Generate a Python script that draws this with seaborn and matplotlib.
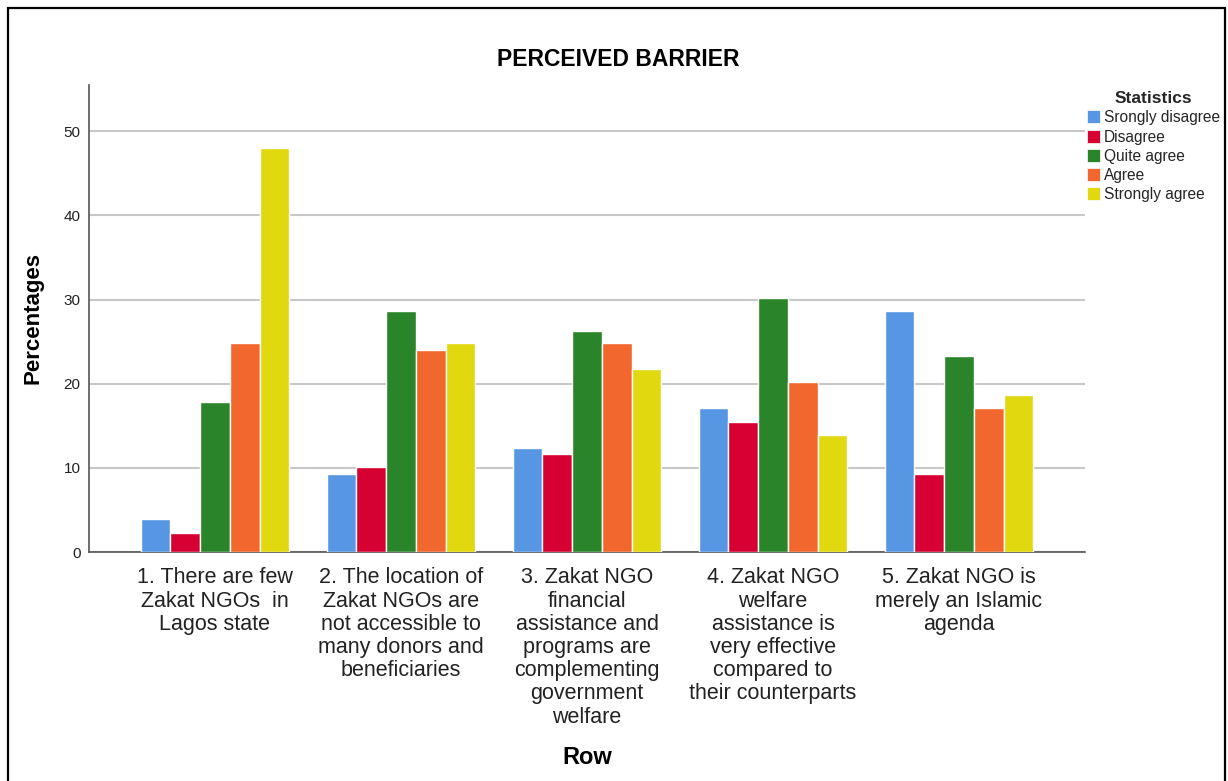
import matplotlib
matplotlib.use("Agg")
import matplotlib.pyplot as plt
import matplotlib.patches as mpatches
import seaborn as sns
import pandas as pd

categories = [
    "1. There are few\nZakat NGOs  in\nLagos state",
    "2. The location of\nZakat NGOs are\nnot accessible to\nmany donors and\nbeneficiaries",
    "3. Zakat NGO\nfinancial\nassistance and\nprograms are\ncomplementing\ngovernment\nwelfare",
    "4. Zakat NGO\nwelfare\nassistance is\nvery effective\ncompared to\ntheir counterparts",
    "5. Zakat NGO is\nmerely an Islamic\nagenda",
]
statistics = ["Srongly disagree", "Disagree", "Quite agree", "Agree", "Strongly agree"]
strongly_disagree = [3.9, 9.3, 12.4, 17.1, 28.7]
disagree = [2.3, 10.1, 11.6, 15.5, 9.3]
quite_agree = [17.8, 28.7, 26.3, 30.2, 23.3]
agree = [24.8, 24.0, 24.8, 20.2, 17.1]
strongly_agree = [48.0, 24.8, 21.7, 13.9, 18.6]
colors = ["#5796e3", "#d70033", "#2a8429", "#f2672e", "#e2d80f"]

series = [strongly_disagree, disagree, quite_agree, agree, strongly_agree]
rows = []
for stat, vals in zip(statistics, series):
    for cat, v in zip(categories, vals):
        rows.append({"Row": cat, "Statistics": stat, "Percentages": v})
df = pd.DataFrame(rows)

sns.set_theme(style="white")
plt.rcParams["font.family"] = ["Liberation Sans", "DejaVu Sans"]

W, H = 1228, 781
fig = plt.figure(figsize=(W / 100, H / 100), dpi=100)
ax = fig.add_axes([89 / W, 1 - 552 / H, (1085 - 89) / W, (552 - 85) / H])

sns.barplot(data=df, x="Row", y="Percentages", hue="Statistics",
            order=categories, hue_order=statistics, palette=colors,
            saturation=1, width=0.8, edgecolor="white", linewidth=1.0,
            ax=ax, legend=False, zorder=3)

ax.set_ylim(0, 55.5)
ax.set_xlim(-0.677, 4.677)
ax.set_yticks([0, 10, 20, 30, 40, 50])
ax.yaxis.grid(True, color="#c8c8c8", linewidth=1.5, zorder=0)
ax.set_axisbelow(True)
for s in ["top", "right"]:
    ax.spines[s].set_visible(False)
for s in ["left", "bottom"]:
    ax.spines[s].set_color("#555555")
    ax.spines[s].set_linewidth(1.2)
ax.tick_params(axis="y", length=0, pad=6, labelsize=11, labelcolor="#222222")
ax.tick_params(axis="x", length=0, pad=11, labelsize=15.5, labelcolor="#222222")
for lbl in ax.get_xticklabels():
    lbl.set_linespacing(1.14)
    lbl.set_verticalalignment("top")
ax.set_xlabel("")
ax.set_ylabel("")

fig.text(618 / W, 1 - 60 / H, "PERCEIVED BARRIER", ha="center", va="center",
         fontsize=16.5, fontweight="bold", color="black")
fig.text(33 / W, 1 - 318 / H, "Percentages", ha="center", va="center",
         rotation=90, fontsize=16, fontweight="bold", color="black")
fig.text(587 / W, 1 - 758 / H, "Row", ha="center", va="center",
         fontsize=17, fontweight="bold", color="black")

handles = [mpatches.Patch(facecolor=c, edgecolor="white", linewidth=0.5) for c in colors]
leg = fig.legend(handles, statistics, title="Statistics",
                 loc="upper left", bbox_to_anchor=(1084 / W, 1 - 88 / H),
                 frameon=False, fontsize=11.2, title_fontsize=12.5,
                 handlelength=0.8, handleheight=0.9, handletextpad=0.3,
                 labelspacing=0.27, borderpad=0.2, borderaxespad=0)
leg.get_title().set_fontweight("bold")

border = mpatches.Rectangle((8 / W, -0.02), (1225 - 8) / W, 1.02 - 8 / H,
                            transform=fig.transFigure, fill=False,
                            edgecolor="black", linewidth=1.6)
fig.patches.append(border)

fig.savefig("out.png", dpi=100)
